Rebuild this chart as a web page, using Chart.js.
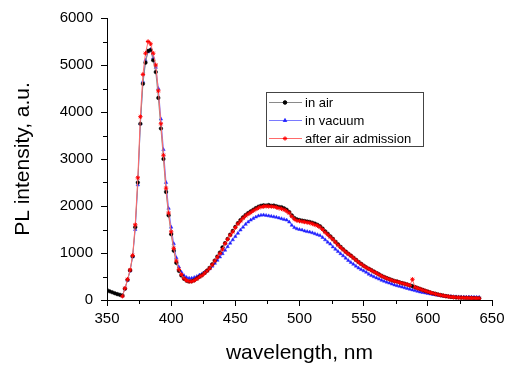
<!DOCTYPE html>
<html>
<head>
<meta charset="utf-8">
<script src="https://cdn.jsdelivr.net/npm/chart.js@4/dist/chart.umd.min.js"></script>
<style>
  html, body { margin: 0; padding: 0; background: #fff; }
  #wrap { width: 512px; height: 367px; }
</style>
</head>
<body>
<div id="wrap"><canvas id="plChart" width="512" height="367"></canvas></div>
<script>
// wavelength grid (nm)
const wavelengths = [
  350, 352, 354, 356, 358, 360, 362, 364, 366, 368, 370, 372, 374, 376, 378, 380, 382, 384, 386, 388,
  390, 392, 394, 396, 398, 400, 402, 404, 406, 408, 410, 412, 414, 416, 418, 420, 422, 424, 426, 428,
  430, 432, 434, 436, 438, 440, 442, 444, 446, 448, 450, 452, 454, 456, 458, 460, 462, 464, 466, 468,
  470, 472, 474, 476, 478, 480, 482, 484, 486, 488, 490, 492, 494, 496, 498, 500, 502, 504, 506, 508,
  510, 512, 514, 516, 518, 520, 522, 524, 526, 528, 530, 532, 534, 536, 538, 540, 542, 544, 546, 548,
  550, 552, 554, 556, 558, 560, 562, 564, 566, 568, 570, 572, 574, 576, 578, 580, 582, 584, 586, 588,
  590, 592, 594, 596, 598, 600, 602, 604, 606, 608, 610, 612, 614, 616, 618, 620, 622, 624, 626, 628,
  630, 632, 634, 636, 638, 640
];

// PL intensity, in air
const inAir = [
  210, 185, 165, 145, 125, 110,
  95, 240, 430, 630, 930, 1550, 2500, 3750, 4600, 5050, 5300, 5320, 5100, 4850,
  4300, 3650, 3000, 2300, 1800, 1400, 1050, 790, 620, 520, 450, 410, 395, 400, 420, 455, 495,
  530, 575, 625, 685, 760, 840, 925, 1010, 1120, 1210,
  1300, 1390, 1470, 1555, 1635, 1700, 1760, 1810, 1850, 1885,
  1920, 1955, 1985, 2005, 2015, 2010, 2020, 2005, 2010, 1995,
  1980, 1975, 1950, 1920, 1870, 1800, 1745, 1715, 1700, 1690,
  1680, 1670, 1660, 1645, 1625, 1600, 1570, 1520, 1460, 1410,
  1355, 1300, 1240, 1185, 1130, 1080, 1030, 985, 945,
  900, 855, 810, 770, 730, 695, 665, 635, 605, 575,
  545, 515, 490, 465, 445, 425, 405, 395, 375, 360,
  345, 330, 312, 295, 275, 255, 235, 215, 195, 178,
  160, 145, 130, 117, 105, 93, 83, 74, 66, 60,
  55, 52, 50, 47, 45, 44, 42, 40, 38, 36
];

// PL intensity, in vacuum
const inVacuum = [
  null, null, null, null, null, null,
  90, 240, 420, 620, 920, 1500, 2450, 3750, 4650, 5100, 5280, 5330, 5150, 4950,
  4500, 3850, 3200, 2500, 1950, 1550, 1200, 900, 700, 590, 520, 480, 465, 465, 480, 500, 530,
  555, 590, 625, 665, 720, 780, 845, 915, 985, 1060,
  1135, 1210, 1280, 1350, 1420, 1490, 1550, 1610, 1660, 1700,
  1735, 1765, 1790, 1805, 1810, 1800, 1790, 1780, 1770, 1760,
  1745, 1730, 1715, 1700, 1660, 1590, 1540, 1515, 1500, 1490,
  1470, 1455, 1445, 1430, 1410, 1390, 1370, 1330, 1280, 1230,
  1190, 1130, 1080, 1030, 985, 940, 890, 840, 800,
  760, 720, 680, 650, 620, 590, 550, 520, 495, 470,
  445, 420, 400, 380, 360, 340, 320, 305, 290, 275,
  260, 245, 230, 215, 200, 185, 170, 160, 150, 140,
  128, 118, 110, 100, 92, 86, 80, 75, 72, 70,
  68, 66, 65, 64, 63, 62, 62, 61, 60, 58
];

// PL intensity, after air admission
const afterAir = [
  null, null, null, null, null, null,
  80, 250, 440, 640, 950, 1600, 2600, 3900, 4800, 5250, 5500, 5450, 5250, 5000,
  4450, 3750, 3080, 2380, 1850, 1450, 1100, 830, 650, 540, 460, 415, 395, 395, 415, 450, 490,
  520, 570, 620, 675, 750, 830, 910, 990, 1080, 1200,
  1290, 1380, 1450, 1540, 1620, 1680, 1740, 1790, 1830, 1860,
  1900, 1930, 1960, 1980, 1990, 1995, 1990, 1990, 1985, 1970,
  1955, 1940, 1920, 1890, 1850, 1780, 1720, 1690, 1680, 1670,
  1660, 1650, 1640, 1620, 1600, 1580, 1550, 1500, 1440, 1390,
  1340, 1290, 1230, 1170, 1120, 1070, 1020, 980, 940,
  895, 850, 805, 765, 725, 690, 660, 630, 600, 570,
  540, 510, 485, 460, 440, 420, 400, 390, 372, 358,
  342, 328, 310, 440, 272, 252, 232, 212, 193, 175,
  158, 143, 128, 115, 103, 92, 82, 73, 66, 60,
  55, 52, 50, 48, 46, 44, 42, 40, 38, 36
];

const seriesNames = ['in air', 'in vacuum', 'after air admission'];
const xTicks = [350, 400, 450, 500, 550, 600, 650];
const yTicks = [0, 1000, 2000, 3000, 4000, 5000, 6000];

const FONT = 'Arial, "Liberation Sans", sans-serif';

function toPoints(values) {
    return wavelengths.map((w, i) => ({ x: w, y: values[i] }));
}

// Minor ticks between the labelled ones
const minorTicks = {
    id: 'minorTicks',
    afterDraw(chart) {
        const ctx = chart.ctx;
        const xs = chart.scales.x;
        const ys = chart.scales.y;
        ctx.save();
        ctx.strokeStyle = '#000';
        ctx.lineWidth = 1;
        ctx.beginPath();
        for (let i = 0; i < yTicks.length - 1; i++) {
            const py = Math.round(ys.getPixelForValue((yTicks[i] + yTicks[i + 1]) / 2)) + 0.5;
            ctx.moveTo(xs.left - 4, py);
            ctx.lineTo(xs.left, py);
        }
        for (let i = 0; i < xTicks.length - 1; i++) {
            const px = Math.round(xs.getPixelForValue((xTicks[i] + xTicks[i + 1]) / 2)) + 0.5;
            ctx.moveTo(px, ys.bottom);
            ctx.lineTo(px, ys.bottom + 4);
        }
        ctx.stroke();
        ctx.restore();
    }
};

// Boxed legend drawn inside the plot
const boxLegend = {
    id: 'boxLegend',
    afterDraw(chart) {
        const ctx = chart.ctx;
        const x0 = 266, y0 = 92, w = 157, h = 54;
        ctx.save();
        ctx.fillStyle = '#fff';
        ctx.fillRect(x0, y0, w, h);
        ctx.strokeStyle = '#444';
        ctx.lineWidth = 1;
        ctx.strokeRect(x0 + 0.5, y0 + 0.5, w, h);
        chart.data.datasets.forEach((ds, row) => {
            const cy = y0 + 10 + row * 18;
            ctx.strokeStyle = ds.borderColor;
            ctx.lineWidth = 1;
            ctx.beginPath();
            ctx.moveTo(x0 + 3, cy + 0.5);
            ctx.lineTo(x0 + 36, cy + 0.5);
            ctx.stroke();
            ctx.fillStyle = ds.pointBackgroundColor;
            ctx.strokeStyle = ds.pointBorderColor;
            Chart.helpers.drawPoint(ctx, {
                pointStyle: ds.pointStyle,
                radius: ds.pointRadius,
                rotation: 0,
                borderWidth: 1
            }, x0 + 19, cy + 0.5);
            ctx.fillStyle = '#000';
            ctx.font = '13px ' + FONT;
            ctx.textBaseline = 'middle';
            ctx.textAlign = 'left';
            ctx.fillText(ds.label, x0 + 39, cy + 1);
        });
        ctx.restore();
    }
};

const ctx = document.getElementById('plChart').getContext('2d');

new Chart(ctx, {
    type: 'line',
    data: {
        datasets: [{
            label: seriesNames[0],
            data: toPoints(inAir),
            borderColor: '#8a8a8a',
            borderWidth: 1,
            pointStyle: 'circle',
            pointRadius: 1.8,
            pointBackgroundColor: '#000',
            pointBorderColor: '#000',
            pointBorderWidth: 0.5,
            order: 1
        }, {
            label: seriesNames[1],
            data: toPoints(inVacuum),
            borderColor: '#7a7aff',
            borderWidth: 1,
            pointStyle: 'triangle',
            pointRadius: 2,
            pointBackgroundColor: '#1a1aff',
            pointBorderColor: '#3333ff',
            pointBorderWidth: 0.5,
            order: 2
        }, {
            label: seriesNames[2],
            data: toPoints(afterAir),
            borderColor: '#ff6a6a',
            borderWidth: 1,
            pointStyle: 'star',
            pointRadius: 2.2,
            pointBackgroundColor: '#ff0000',
            pointBorderColor: '#ff0000',
            pointBorderWidth: 1,
            order: 0
        }]
    },
    options: {
        responsive: false,
        animation: false,
        events: [],
        layout: {
            padding: { top: 18, right: 20, left: 0, bottom: 0 }
        },
        plugins: {
            legend: { display: false },
            tooltip: { enabled: false }
        },
        scales: {
            x: {
                type: 'linear',
                min: 350,
                max: 650,
                afterBuildTicks: scale => { scale.ticks = xTicks.map(v => ({ value: v })); },
                afterFit: scale => { scale.height = 67; },
                border: { display: true, color: '#000', width: 1 },
                grid: { drawOnChartArea: false, drawTicks: true, tickLength: 6, color: '#000' },
                ticks: {
                    color: '#000',
                    font: { family: FONT, size: 15 },
                    padding: 4,
                    maxRotation: 0,
                    callback: v => String(v)
                },
                title: {
                    display: true,
                    text: 'wavelength, nm',
                    color: '#000',
                    font: { family: FONT, size: 21 },
                    padding: { top: 0, bottom: 1 }
                }
            },
            y: {
                type: 'linear',
                min: 0,
                max: 6000,
                afterBuildTicks: scale => { scale.ticks = yTicks.map(v => ({ value: v })); },
                afterFit: scale => { scale.width = 107; },
                border: { display: true, color: '#000', width: 1 },
                grid: { drawOnChartArea: false, drawTicks: true, tickLength: 6, color: '#000' },
                ticks: {
                    color: '#000',
                    font: { family: FONT, size: 15 },
                    padding: 8,
                    callback: v => String(v)
                },
                title: {
                    display: true,
                    text: 'PL intensity, a.u.',
                    color: '#000',
                    font: { family: FONT, size: 21 },
                    padding: { top: 11, bottom: 0 }
                }
            }
        }
    },
    plugins: [minorTicks, boxLegend]
});
</script>
</body>
</html>
